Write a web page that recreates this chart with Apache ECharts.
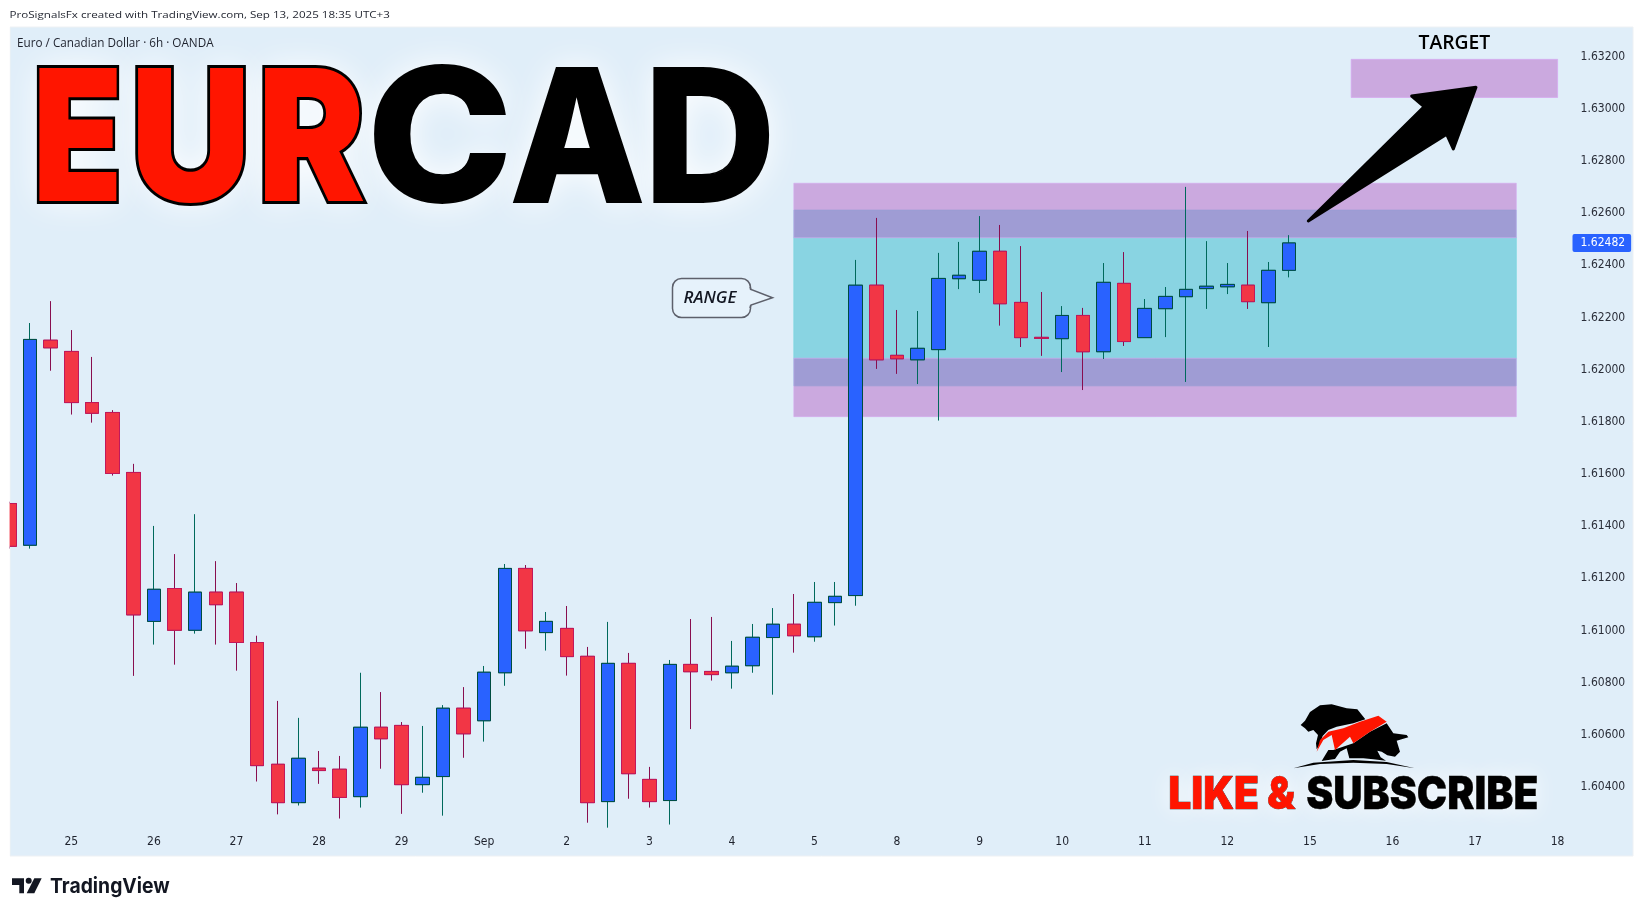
<!DOCTYPE html>
<html>
<head>
<meta charset="utf-8">
<style>html,body{margin:0;padding:0;background:#fff}#c{width:1643px;height:916px}</style>
<script src="https://cdn.jsdelivr.net/npm/echarts@6/dist/echarts.min.js"></script>
</head>
<body>
<div id="c"></div>
<script>
// ---- data ----
const categories = ['','','','25','','','','26','','','','27','','','','28','','','','29','','','','Sep','','','','2','','','','3','','','','4','','','','5','','','','8','','','','9','','','','10','','','','11','','','','12','','','','15','','','','16','','','','17','','','','18'];
const opens  = [1.61483,1.61323,1.62109,1.62066,1.61870,1.61832,1.61602,1.61031,1.61157,1.60997,1.61143,1.61143,1.60950,1.60483,1.60336,1.60468,1.60464,1.60359,1.60625,1.60632,1.60405,1.60436,1.60698,1.60650,1.60834,1.61234,1.60988,1.61004,1.60897,1.60340,1.60870,1.60425,1.60344,1.60866,1.60839,1.60834,1.60861,1.60969,1.61020,1.60972,1.61103,1.61130,1.62320,1.62051,1.62034,1.62073,1.62345,1.62339,1.62450,1.62254,1.62120,1.62115,1.62204,1.62065,1.62327,1.62119,1.62230,1.62276,1.62307,1.62314,1.62320,1.62253,1.62377];
const closes = [1.61319,1.62112,1.62080,1.61870,1.61829,1.61598,1.61056,1.61154,1.60997,1.61143,1.61095,1.60950,1.60478,1.60336,1.60506,1.60459,1.60356,1.60625,1.60581,1.60405,1.60433,1.60698,1.60600,1.60836,1.61234,1.60995,1.61031,1.60896,1.60336,1.60870,1.60447,1.60340,1.60866,1.60838,1.60827,1.60859,1.60970,1.61020,1.60976,1.61104,1.61127,1.62320,1.62034,1.62038,1.62078,1.62346,1.62358,1.62450,1.62249,1.62119,1.62116,1.62204,1.62065,1.62331,1.62104,1.62231,1.62277,1.62304,1.62316,1.62323,1.62257,1.62377,1.62482];
const highs  = [1.61490,1.62175,1.62259,1.62148,1.62045,1.61841,1.61635,1.61397,1.61289,1.61442,1.61262,1.61178,1.60976,1.60726,1.60661,1.60534,1.60515,1.60834,1.60760,1.60645,1.60630,1.60710,1.60779,1.60860,1.61251,1.61247,1.61067,1.61090,1.60933,1.61029,1.60910,1.60473,1.60883,1.61040,1.61048,1.60956,1.61021,1.61082,1.61136,1.61182,1.61182,1.62417,1.62578,1.62225,1.62221,1.62444,1.62486,1.62585,1.62551,1.62470,1.62294,1.62240,1.62233,1.62405,1.62447,1.62267,1.62313,1.62697,1.62489,1.62405,1.62528,1.62409,1.62512];
const lows   = [1.61310,1.61310,1.61992,1.61824,1.61793,1.61590,1.60822,1.60942,1.60865,1.60984,1.60942,1.60842,1.60417,1.60291,1.60325,1.60408,1.60275,1.60317,1.60466,1.60293,1.60374,1.60286,1.60508,1.60570,1.60784,1.60926,1.60919,1.60823,1.60259,1.60240,1.60351,1.60317,1.60252,1.60618,1.60804,1.60773,1.60834,1.60750,1.60911,1.60953,1.61015,1.61091,1.61999,1.61980,1.61941,1.61801,1.62305,1.62290,1.62165,1.62083,1.62049,1.61987,1.61918,1.62037,1.62087,1.62119,1.62121,1.61949,1.62229,1.62286,1.62229,1.62083,1.62350];
const lastPrice = 1.62482;
const zoneIndexes = {rangeFrom: 38, rangeTo: 73, targetFrom: 65, targetTo: 75};
const tealZone = [1.62608, 1.61934];
const upperPurple = [1.62711, 1.62502];
const lowerPurple = [1.62040, 1.61816];
const targetZone = [1.63186, 1.63040];

// ---- series data ----
const fullCandles = opens.map((o,i)=>[o,closes[i],lows[i],highs[i]]);
const bodyCandles = opens.map((o,i)=>[o,closes[i],Math.min(o,closes[i]),Math.max(o,closes[i])]);

// ---- ink-box text fitting for the overlays ----
const mctx = document.createElement('canvas').getContext('2d');
function fit(text, font, x0, x1, y0, y1, style, z){
  mctx.font = font; mctx.textBaseline='middle'; mctx.textAlign='left';
  const m = mctx.measureText(text);
  const sx = (x1-x0)/(m.actualBoundingBoxRight+m.actualBoundingBoxLeft);
  const sy = (y1-y0)/(m.actualBoundingBoxAscent+m.actualBoundingBoxDescent);
  return {type:'text', z:z||100, silent:true,
    x:x0+m.actualBoundingBoxLeft*sx, y:y0+m.actualBoundingBoxAscent*sy, scaleX:sx, scaleY:sy,
    style:Object.assign({text, font, x:0, y:0, align:'left', verticalAlign:'middle', fill:'#000'}, style||{})};
}
const heavy = '900 100px Inter';
const strong = '800 100px Inter';
const glowStyle = b=>({fill:'#fff', textShadowBlur:b, textShadowColor:'rgba(255,255,255,1)', shadowBlur:b, shadowColor:'rgba(255,255,255,1)'});
const redBig = {fill:'#FF1500', stroke:'#000', lineWidth:3.4, lineJoin:'round'};
const blackBig = {fill:'#000', stroke:'#000', lineWidth:1, lineJoin:'round'};
const big = (t,f,x0,x1,y0,y1,st)=>[fit(t,f,x0,x1,y0,y1,glowStyle(34),90), fit(t,f,x0,x1,y0,y1,st,100)];
const poly = (pts, fill, extra)=>({type:'polygon', z:100, silent:true, shape:{points:pts}, style:Object.assign({fill}, extra||{})});
const logoPt = p=>[1140+p[0]/3, 680+p[1]/3];
const smallFont = '12px "Open Sans"';

const graphic = [
  {type:'rect', z:-10, silent:true, shape:{x:10,y:27,width:1623,height:829}, style:{fill:'#E0EEF9', stroke:'#EEF1F4', lineWidth:1}},
  {type:'rect', z:50, silent:true, shape:{x:0,y:27,width:9.6,height:829}, style:{fill:'#fff'}},
  fit('ProSignalsFx created with TradingView.com, Sep 13, 2025 18:35 UTC+3',smallFont,10.5,390,10,20.5,{fill:'#1e222d'}),
  fit('Euro / Canadian Dollar · 6h · OANDA',smallFont,18,214,36.5,47,{fill:'#1e222d'}),

  ...big('E',heavy,38.5,118,67.5,201,redBig),
  ...big('U',heavy,137,244,67.5,203,redBig),
  ...big('R',heavy,264,364,67.5,201,redBig),
  ...big('C',strong,375,505.5,65,203,blackBig),
  ...big('A',strong,513.5,641.5,67,201.5,blackBig),
  ...big('D',strong,653,769.5,67,201.5,blackBig),

  fit('TARGET','600 20px "Open Sans"',1418.5,1490,35,49),

  // range callout
  {type:'rect', z:100, silent:true, shape:{x:672.5,y:278.5,width:78,height:39,r:9}, style:{fill:'#E6F2FB', stroke:'#5D606B', lineWidth:1.5}},
  poly([[749,289.5],[772.5,297.7],[749,305.5]], '#E6F2FB'),
  {type:'polyline', z:100, silent:true, shape:{points:[[750,287],[751,289.5],[772.5,297.7],[751,305],[750,308]]}, style:{stroke:'#5D606B', lineWidth:1.5, fill:'none'}},
  fit('RANGE','italic 600 16px "Open Sans"',683.5,738,291,302.5,{fill:'#131722'}),

  // target arrow
  poly([[1476,87.3],[1411.7,96],[1424,106.7],[1308.3,221],[1446.7,134.3],[1453.3,149]], '#000', {stroke:'#000', lineWidth:3, lineJoin:'round'}),

  // bull / bear badge
  poly([[482,135],[495,122],[510,96],[540,76],[575,73],[620,85],[652,88],[676,118],[640,130],[590,140],[565,150],[548,168],[538,195],[530,208],[528,190],[534,165],[520,150],[505,155],[495,145]].map(logoPt),'#000'),
  poly([[740,130],[760,160],[800,165],[805,172],[785,178],[770,182],[780,215],[765,230],[742,226],[725,215],[712,212],[722,232],[738,242],[700,238],[670,235],[628,235],[620,205],[600,215],[585,237],[545,243],[565,210],[580,210],[640,190],[690,155]].map(logoPt),'#000'),
  poly([[530,215],[540,180],[565,155],[610,145],[660,125],[715,107],[740,125],[690,155],[640,190],[630,170],[585,210],[575,165],[550,180]].map(logoPt),'#FF1500'),
  poly([[460,265],[520,248],[640,240],[740,246],[825,265],[740,252],[640,248],[540,252]].map(logoPt),'#000'),
  fit('LIKE &',heavy,1170,1296,776,809.5,glowStyle(22),90),
  fit('SUBSCRIBE',heavy,1307,1537,776,809.5,glowStyle(22),90),
  fit('LIKE &',heavy,1170,1296,776,809.5,{fill:'#FF1500', stroke:'#222', lineWidth:1.2, lineJoin:'round'}),
  fit('SUBSCRIBE',heavy,1307,1537,776,809.5,{fill:'#000', stroke:'#000', lineWidth:0.8, lineJoin:'round'}),

  // TradingView mark
  poly([[12,878.3],[24,878.3],[24,893.3],[19.3,893.3],[19.3,885],[12,885]],'#131722'),
  {type:'circle', z:100, silent:true, shape:{cx:28.7,cy:880.8,r:3}, style:{fill:'#131722'}},
  poly([[34.3,878.3],[41.7,878.3],[34.3,893.3],[26.7,893.3]],'#131722'),
  fit('TradingView','bold 22px Inter',50,170,877.5,898,{fill:'#131722'})
];

const axisFont = '"DejaVu Sans Condensed","Liberation Sans",sans-serif';
const chart = echarts.init(document.getElementById('c'), null, {renderer:'canvas'});
chart.setOption({
  animation:false,
  backgroundColor:'#fff',
  grid:{left:9.4, right:85.4, top:3.54, bottom:77.9, containLabel:false},
  graphic:graphic,
  tooltip:{show:false},
  xAxis:{
    type:'category', data:categories, boundaryGap:false,
    axisLine:{show:false}, axisTick:{show:false}, splitLine:{show:false},
    axisLabel:{interval:(i,v)=>v!=='', margin:-2, color:'#1E222D', fontFamily:axisFont, fontSize:12}
  },
  yAxis:{
    type:'value', position:'right', min:1.602, max:1.634, interval:0.002, scale:true,
    axisLine:{show:false}, axisTick:{show:false}, splitLine:{show:false},
    axisLabel:{showMinLabel:false, showMaxLabel:false, margin:23, align:'left', color:'#2A2E39', fontFamily:axisFont, fontSize:12,
      formatter:v=>'{p|'+v.toFixed(5)+'}',
      rich:{p:{padding:[2,0,0,0], color:'#2A2E39', fontFamily:axisFont, fontSize:12}}}
  },
  series:[
    {
      name:'EURCAD wicks', type:'candlestick', data:fullCandles, barWidth:14, silent:true, z:3,
      itemStyle:{color:'#2962FF', color0:'#F23645', borderColor:'#00695C', borderColor0:'#880E4F', borderWidth:1},
      markArea:{silent:true, z:1, data:[
        [{xAxis:zoneIndexes.rangeFrom, yAxis:tealZone[0], itemStyle:{color:'rgba(50,186,203,0.5)', borderColor:'rgba(120,215,225,0.7)', borderWidth:1}},{xAxis:zoneIndexes.rangeTo, yAxis:tealZone[1]}],
        [{xAxis:zoneIndexes.rangeFrom, yAxis:upperPurple[0], itemStyle:{color:'rgba(182,100,197,0.5)', borderColor:'rgba(214,170,240,0.6)', borderWidth:1}},{xAxis:zoneIndexes.rangeTo, yAxis:upperPurple[1]}],
        [{xAxis:zoneIndexes.rangeFrom, yAxis:lowerPurple[0], itemStyle:{color:'rgba(182,100,197,0.5)', borderColor:'rgba(214,170,240,0.6)', borderWidth:1}},{xAxis:zoneIndexes.rangeTo, yAxis:lowerPurple[1]}],
        [{xAxis:zoneIndexes.targetFrom, yAxis:targetZone[0], itemStyle:{color:'rgba(182,100,197,0.5)', borderColor:'rgba(214,170,240,0.8)', borderWidth:1}},{xAxis:zoneIndexes.targetTo, yAxis:targetZone[1]}]
      ]}
    },
    {
      name:'EURCAD bodies', type:'candlestick', data:bodyCandles, barWidth:14, silent:true, z:4,
      itemStyle:{color:'#2962FF', color0:'#F23645', borderColor:'#004D40', borderColor0:'#C2185B', borderWidth:1}
    },
    {
      name:'Last price', type:'scatter', silent:true, z:5, clip:false, symbolSize:1,
      itemStyle:{color:'transparent', opacity:1},
      data:[[categories.length-1, lastPrice]],
      label:{show:true, position:'right', distance:14.4, opacity:1, formatter:()=>lastPrice.toFixed(5), color:'#fff', backgroundColor:'#2962FF', borderRadius:2, padding:[4,6,2,8], fontFamily:axisFont, fontSize:12}
    }
  ]
});
</script>
</body>
</html>
